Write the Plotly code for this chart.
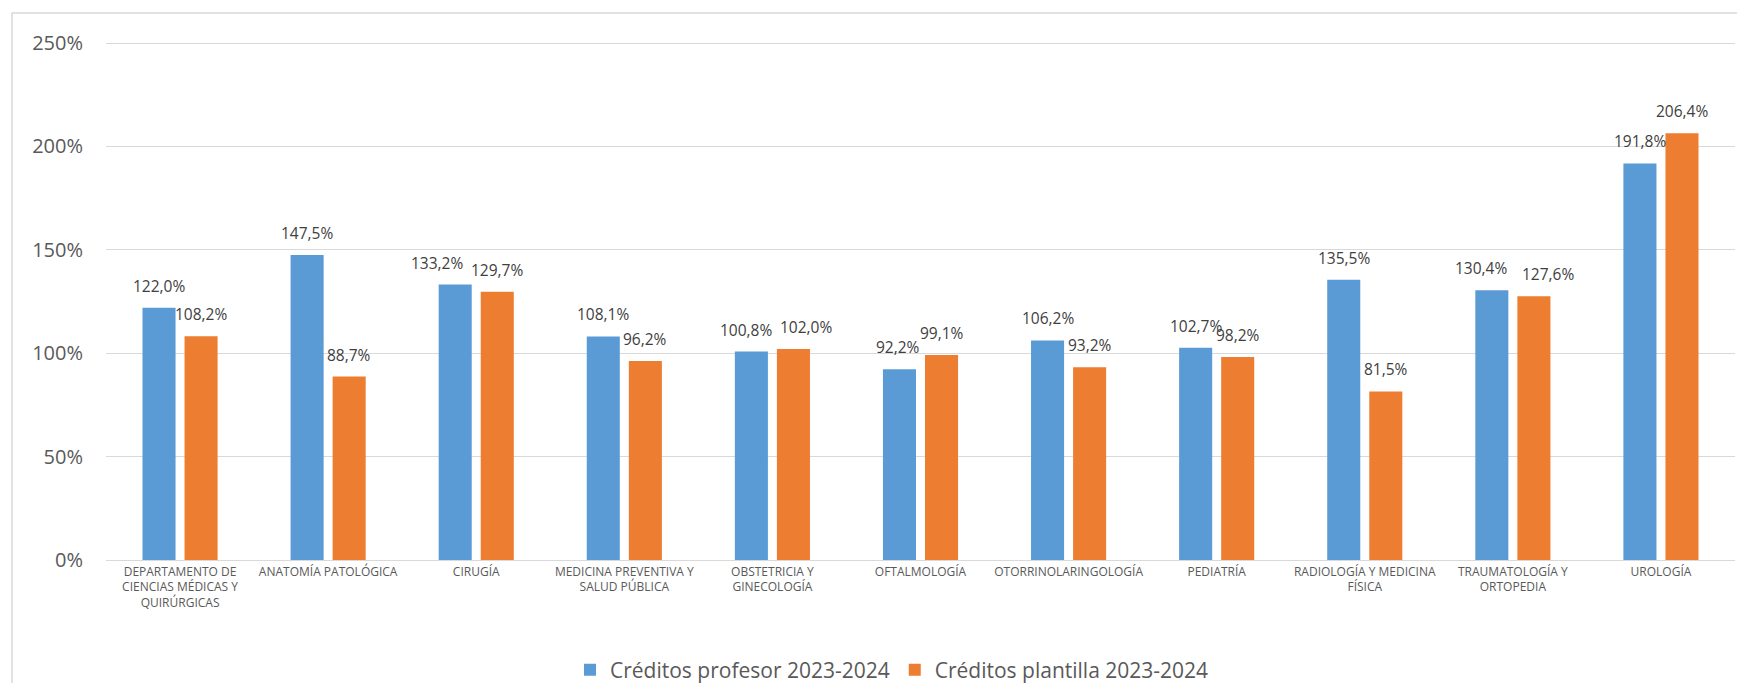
import plotly.graph_objects as go

categories = [
    "DEPARTAMENTO DE<br>CIENCIAS MÉDICAS Y<br>QUIRÚRGICAS",
    "ANATOMÍA PATOLÓGICA",
    "CIRUGÍA",
    "MEDICINA PREVENTIVA Y<br>SALUD PÚBLICA",
    "OBSTETRICIA Y<br>GINECOLOGÍA",
    "OFTALMOLOGÍA",
    "OTORRINOLARINGOLOGÍA",
    "PEDIATRÍA",
    "RADIOLOGÍA Y MEDICINA<br>FÍSICA",
    "TRAUMATOLOGÍA Y<br>ORTOPEDIA",
    "UROLOGÍA",
]
profesor = [122.0, 147.5, 133.2, 108.1, 100.8, 92.2, 106.2, 102.7, 135.5, 130.4, 191.8]
plantilla = [108.2, 88.7, 129.7, 96.2, 102.0, 99.1, 93.2, 98.2, 81.5, 127.6, 206.4]
series_names = ["Créditos profesor 2023-2024", "Créditos plantilla 2023-2024"]
colors = ["#5B9BD5", "#ED7D31"]
y_ticks = [0, 50, 100, 150, 200, 250]
y_tick_labels = ["0%", "50%", "100%", "150%", "200%", "250%"]

# horizontal nudges (px) of data labels, as placed in the original chart
label_nudge_profesor = [0, 0, -18, 0, -5, -2, 0, 0, 0, -11, 0]
label_nudge_plantilla = [0, 0, 0, 0, 13, 0, 0, 0, 0, 14, 0]

FONT = "Open Sans"

def fmt(v):
    return f"{v:.1f}".replace(".", ",") + "%"

fig = go.Figure()
for name, vals, col in zip(series_names, [profesor, plantilla], colors):
    fig.add_trace(go.Bar(
        x=categories, y=vals, name=name,
        marker=dict(color=col, line=dict(width=0)),
        hoverinfo="skip",
    ))

# data labels
for vals, base, nudges in [(profesor, -21, label_nudge_profesor),
                           (plantilla, 21, label_nudge_plantilla)]:
    for c, v, n in zip(categories, vals, nudges):
        fig.add_annotation(
            x=c, y=v, xref="x", yref="y", text=fmt(v), showarrow=False,
            xshift=base + n, yshift=9, yanchor="bottom",
            font=dict(family=FONT, size=15.5, color="#404040"),
        )

# page is drawn with an 8px body margin -> work in figure coordinates
OFF = 8
W, H = 1745 - 2 * OFF, 691 - 2 * OFF
plot_left, plot_right, plot_bottom = 106 - OFF, 1735 - OFF, 560 - OFF
L, R, T, B = plot_left, W - plot_right, 34, H - plot_bottom
pw, ph = W - L - R, H - T - B

# chart area border (cropped on the right and bottom)
fig.add_shape(type="rect", xref="paper", yref="paper",
              x0=(12 - OFF - L) / pw, x1=(W + 30 - L) / pw,
              y0=-(H + 30 - plot_bottom) / ph, y1=(plot_bottom - (13 - OFF)) / ph,
              line=dict(color="#d9d9d9", width=1.5), fillcolor="rgba(0,0,0,0)", layer="below")

fig.update_layout(
    width=W, height=H,
    margin=dict(l=L, r=R, t=T, b=B, autoexpand=False),
    paper_bgcolor="white", plot_bgcolor="white",
    barmode="group", bargap=0.432, bargroupgap=0.214,
    font=dict(family=FONT, color="#595959"),
    showlegend=True,
    legend=dict(orientation="h", xref="container", yref="container",
                x=(892 - OFF) / W, xanchor="center",
                y=1 - (670 - OFF) / H, yanchor="middle",
                font=dict(family=FONT, size=21, color="#595959"),
                itemclick=False, itemdoubleclick=False),
    yaxis=dict(range=[0, 250.5], tickvals=y_ticks, ticktext=y_tick_labels,
               showgrid=True, gridcolor="#d9d9d9", gridwidth=1.3,
               zeroline=False, showline=False, automargin=False,
               tickfont=dict(family=FONT, size=20, color="#595959"),
               ticklabelstandoff=22, fixedrange=True),
    xaxis=dict(showline=True, linecolor="#d9d9d9", linewidth=1.3,
               tickfont=dict(family=FONT, size=12, color="#595959"),
               ticks="", fixedrange=True, tickangle=0, automargin=False),
)

fig.write_html("out.html")
